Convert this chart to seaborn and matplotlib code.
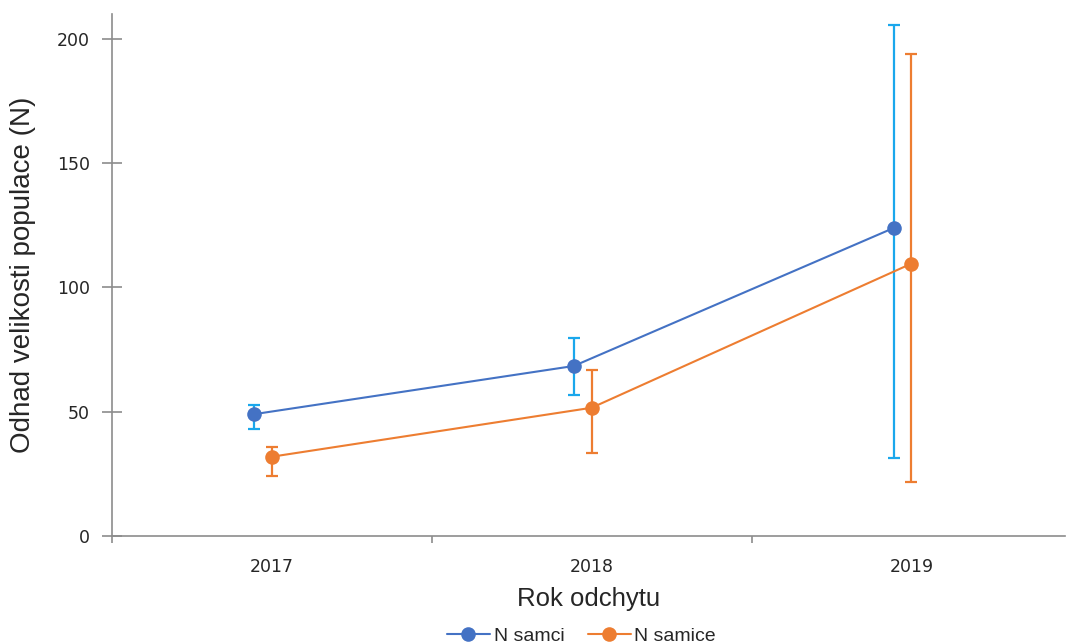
import numpy as np
import pandas as pd
import matplotlib
matplotlib.use('Agg')
import matplotlib.pyplot as plt
import seaborn as sns

# data
years = ['2017', '2018', '2019']
series_names = ['N samci', 'N samice']
samci = [49.0, 68.4, 123.9]
samci_low = [43.1, 56.6, 31.3]
samci_high = [52.8, 79.5, 205.6]
samice = [31.9, 51.6, 109.6]
samice_low = [24.1, 33.5, 21.8]
samice_high = [36.0, 66.9, 193.8]

line_colors = ['#4472C4', '#ED7D31']
err_colors = ['#1AA7EC', '#ED7D31']
offsets = [-0.056, 0.0]  # blue points sit a bit left of the category centre

sns.set_theme(style='white')
plt.rcParams['font.family'] = ['DejaVu Sans']

idx = np.arange(len(years))
df = pd.DataFrame({
    'pos': np.concatenate([idx + offsets[0], idx + offsets[1]]),
    'N': samci + samice,
    'serie': [series_names[0]] * 3 + [series_names[1]] * 3,
})

fig = plt.figure(figsize=(10.67, 6.44), dpi=100)
ax = fig.add_axes([112 / 1067, 1 - 536 / 644, (1065 - 112) / 1067, (536 - 14) / 644])

sns.lineplot(data=df, x='pos', y='N', hue='serie', palette=line_colors,
             marker='o', markersize=10.5, markeredgewidth=0, linewidth=1.5,
             ax=ax, legend=True)

vals = [samci, samice]
lows = [samci_low, samice_low]
highs = [samci_high, samice_high]
for i in range(2):
    v = np.array(vals[i])
    err = [v - np.array(lows[i]), np.array(highs[i]) - v]
    ax.errorbar(idx + offsets[i], v, yerr=err, fmt='none', ecolor=err_colors[i],
                elinewidth=1.6, capsize=4, capthick=1.6, zorder=1)

ax.set_xlim(-0.5, 2.48)
ax.set_ylim(0, 210)
ax.set_yticks([0, 50, 100, 150, 200])
ax.set_xticks(idx)
ax.set_xticklabels(years)
ax.set_xticks([-0.5, 0.5, 1.5], minor=True)

for s in ['top', 'right']:
    ax.spines[s].set_visible(False)
for s in ['left', 'bottom']:
    ax.spines[s].set_color('#8c8c8c')
    ax.spines[s].set_linewidth(1.2)

ax.tick_params(axis='y', which='major', direction='inout', length=14, width=1.2,
               color='#8c8c8c', labelsize=12.5, labelcolor='#262626', pad=9, left=True)
ax.tick_params(axis='x', which='major', length=0, labelsize=12.5, labelcolor='#262626', pad=16)
ax.tick_params(axis='x', which='minor', direction='out', length=5, width=1.2,
               color='#8c8c8c', bottom=True)

ax.set_ylabel('Odhad velikosti populace (N)', fontsize=20, family='Liberation Sans',
              color='#262626', labelpad=15)
ax.set_xlabel('Rok odchytu', fontsize=18.5, family='Liberation Sans',
              color='#262626', labelpad=8)

ax.legend_.remove()
handles, labels = ax.get_legend_handles_labels()
fig.legend(handles, labels, loc='center', bbox_to_anchor=(0.545, 0.012),
           ncol=2, frameon=False, prop={'family': 'Liberation Sans', 'size': 14},
           handlelength=2.2, handletextpad=0.2, columnspacing=1.2)

fig.savefig('out.png', dpi=100)
